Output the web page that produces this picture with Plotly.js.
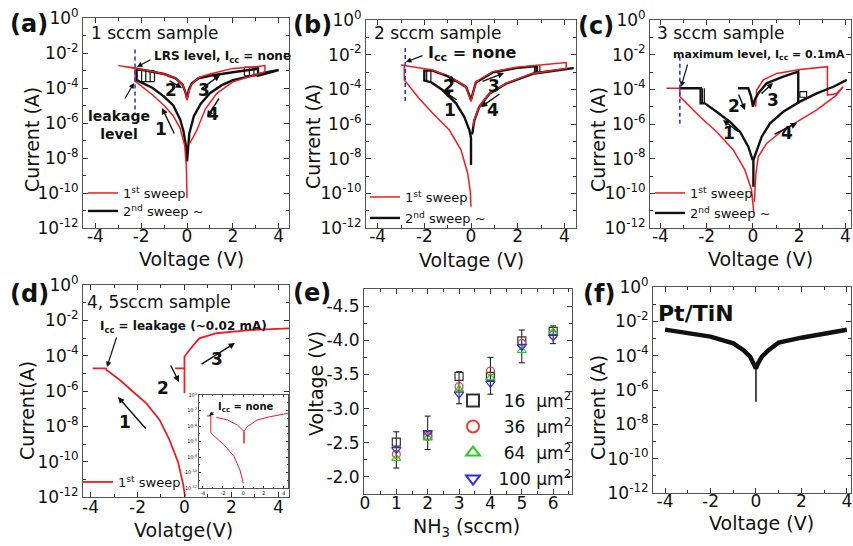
<!DOCTYPE html>
<html><head><meta charset="utf-8">
<script src="https://cdn.plot.ly/plotly-3.0.1.min.js"></script>
<style>html,body{margin:0;padding:0;background:#fff}#c{width:853px;height:546px}</style>
</head><body><div id="c"></div><script>
// ---------- tick labels ----------
const decVals = [1e-12,1e-10,1e-8,1e-6,1e-4,1e-2,1];
const decText = ['10<sup>-12</sup>','10<sup>-10</sup>','10<sup>-8</sup>','10<sup>-6</sup>','10<sup>-4</sup>','10<sup>-2</sup>','10<sup>0</sup>'];
const decMinor = [1e-11,1e-9,1e-7,1e-5,1e-3,1e-1];
const vTicks = [-4,-2,0,2,4];
const vText = ['-4','-2','0','2','4'];
const vMinor = [-3,-1,1,3];
const eXTicks = [0,1,2,3,4,5,6];
const eXText = ['0','1','2','3','4','5','6'];
const eXMinor = [0.5,1.5,2.5,3.5,4.5,5.5,6.5];
const eYTicks = [-2.0,-2.5,-3.0,-3.5,-4.0,-4.5];
const eYText = ['-2.0','-2.5','-3.0','-3.5','-4.0','-4.5'];
const eYMinor = [-1.75,-2.25,-2.75,-3.25,-3.75,-4.25,-4.75];

// ---------- (a) 1 sccm sample ----------
const aRedV = [0,-0.03,-0.1,-0.3,-0.6,-1.0,-1.5,-2.0,-2.27,-2.27,-2.6,-3.0,-2.6,-2.0,-1.5,-1.0,-0.5,-0.2,-0.08,0,0.08,0.2,0.5,1.0,2.0,3.0,3.4,3.4,3.0,2.0,1.3,0.8,0.4,0.1];
const aRedI = [5e-11,3.2e-9,5e-8,5e-7,2.5e-6,1e-5,4e-5,1.26e-4,2.5e-4,1.41e-3,1.66e-3,1.9e-3,1.66e-3,1.12e-3,8.9e-4,6.3e-4,3.55e-4,1.58e-4,6.3e-5,2e-5,6.3e-5,1.58e-4,4e-4,6.3e-4,1.32e-3,1.66e-3,1.9e-3,8.5e-4,5.6e-4,2.24e-4,5e-5,6.3e-6,3.2e-7,6.3e-8];
const aBlkV = [0,-0.05,-0.15,-0.3,-0.6,-1.0,-1.5,-2.0,-2.2,-2.2,-2.0,-1.5,-1.0,-0.5,-0.2,-0.08,0,0.08,0.2,0.5,1.0,2.0,2.5,3.1,3.1,3.5,4.0,3.5,3.0,2.5,2.0,1.5,1.0,0.6,0.3,0.1,0];
const aBlkI = [6.3e-9,5e-8,3.2e-7,1.58e-6,1e-5,3.2e-5,1e-4,2e-4,2.8e-4,1.26e-3,1.12e-3,8.9e-4,6.3e-4,3.55e-4,1.58e-4,6.3e-5,2.5e-5,7.9e-5,1.78e-4,3.55e-4,5e-4,7.9e-4,1e-3,1.26e-3,5e-4,7.1e-4,1.07e-3,7.9e-4,5.6e-4,4e-4,2.8e-4,1.41e-4,5e-5,1.26e-5,2.5e-6,2.5e-7,6.3e-9];
const aStepV = [-1.98,-1.98,null,-1.8,-1.8,null,-1.61,-1.61,null,-1.42,-1.42,null,-2.2,-1.42,null,-1.98,-1.42,null,2.5,2.5,null,2.72,2.72,null,2.92,2.92,null,3.1,3.1,null,2.5,3.1,null,2.5,3.1];
const aStepI = [1.05e-3,2.3e-4,null,1.0e-3,2.3e-4,null,9.5e-4,2.3e-4,null,9e-4,2.3e-4,null,1.0e-3,1.0e-3,null,2.3e-4,2.3e-4,null,1.5e-3,5e-4,null,1.55e-3,5e-4,null,1.6e-3,5e-4,null,1.65e-3,5e-4,null,1.55e-3,1.55e-3,null,5e-4,5e-4];
const aLimV = [-2.27,-2.27];
const aLimI = [1.6e-2,3.5e-6];

// ---------- (b) 2 sccm sample ----------
const bRedV = [0,-0.03,-0.14,-0.43,-0.93,-1.64,-2.22,-2.86,-2.86,-3.0,-2.86,-1.64,-0.93,-0.21,0,0.21,0.93,1.93,2.93,4.08,4.08,2.65,1.5,0.79,0.36,0.14,0.08];
const bRedI = [1.7e-11,1.26e-10,1.4e-9,3.2e-8,4.5e-7,4.2e-6,3e-5,3.5e-4,2.4e-3,2.5e-3,2.4e-3,1.29e-3,5.4e-4,1.41e-4,1.95e-5,2.75e-4,1.05e-3,1.86e-3,2.5e-3,3.5e-3,1.62e-3,8.3e-4,2.24e-4,5.9e-5,1e-5,1.7e-6,7.1e-7];
const bBlkV = [0,0,-0.07,-0.29,-0.64,-1.22,-1.7,-2.0,-2.0,-1.64,-0.93,-0.21,0,0.21,0.93,1.93,2.8,2.8,4.08,4.4,2.65,1.5,0.79,0.36,0.14,0.05];
const bBlkI = [4.3e-9,1.6e-7,4.5e-7,2.6e-6,1.55e-5,9.1e-5,2.5e-4,3.2e-4,1.2e-3,1.2e-3,5.2e-4,1.38e-4,2.5e-5,2.5e-4,9.5e-4,1.66e-3,2.2e-3,8.9e-4,1.5e-3,1.66e-3,7.9e-4,2.1e-4,5.6e-5,1e-5,1.6e-6,2.5e-7];
const bStepV = [-1.9,-1.9,null,-1.72,-1.72,null,2.72,2.72,null,2.85,2.85,null,2.95,2.95];
const bStepI = [1.2e-3,2.7e-4,null,1.1e-3,2.7e-4,null,2.2e-3,8.5e-4,null,2.25e-3,8.5e-4,null,2.3e-3,8.5e-4];
const bLimV = [-2.82,-2.82];
const bLimI = [2.4e-2,1.55e-5];

// ---------- (c) 3 sccm sample ----------
const cRedV = [0.04,-0.06,-0.35,-0.85,-1.57,-2.29,-3.16,-3.16,-3.74,-3.16,null,0.12,0.16,0.45,1.03,2.03,3.22,3.22,3.6,3.9,3.6,2.76,2.03,1.31,0.59,0.23,0.13,0.06];
const cRedI = [7.1e-12,1.55e-10,2.24e-9,3.2e-8,3.6e-7,2.6e-6,3.8e-5,1.15e-4,1.15e-4,1.15e-4,null,1e-5,9.1e-5,3.5e-4,8.3e-4,1.41e-3,2.04e-3,4.7e-5,5.6e-5,1.41e-4,4.5e-5,6.5e-6,1.7e-6,4.5e-7,7.6e-8,1.29e-8,1.41e-9,3.2e-11];
const cBlkV = [-3.16,-2.26,-2.26,-2.08,-1.57,-1.0,-0.56,-0.2,-0.01,null,-0.64,-0.2,-0.08,0,0.08,0.23,0.59,1.31,1.96,1.96,null,4.06,3.48,2.76,2.03,1.31,0.74,0.38,0.13,0.02,0.02];
const cBlkI = [1.15e-4,1.15e-4,1.55e-5,1.55e-5,5.1e-6,1.35e-6,3.6e-7,4.9e-8,8.3e-9,null,1.15e-4,1.15e-4,4e-5,1e-5,2.5e-5,5.9e-5,2.24e-4,5.4e-4,1.05e-3,1.55e-5,null,3.5e-4,1.41e-4,5.9e-5,1.95e-5,5.1e-6,1.1e-6,1.86e-7,2.04e-8,8.3e-9,2.4e-10];
const cStepV = [-2.18,-2.18,null,-2.1,-2.1,null,2.03,2.32,2.32,2.03,2.03];
const cStepI = [1.15e-4,1.6e-5,null,1.15e-4,1.7e-5,null,7.4e-5,7.4e-5,3.5e-5,3.5e-5,7.4e-5];
const cLimV = [-3.16,-3.16];
const cLimI = [7.6e-3,8.7e-7];

// ---------- (d) 4, 5 sccm sample + inset ----------
const dRedV = [-3.91,-3.35,-3.32,-2.75,-2.19,-1.62,-1.06,-0.64,-0.28,-0.07,0.03,null,-0.4,0,0,0,0.21,0.63,1.36,2.78,4.45];
const dRedI = [1.9e-5,1.9e-5,1.55e-5,4.2e-6,9.1e-7,2e-7,2.3e-8,1.7e-9,1e-10,6.3e-12,1.05e-12,null,1.9e-5,1.9e-5,7.4e-7,8.7e-5,2.1e-4,9.5e-4,1.86e-3,2.8e-3,3.5e-3];
const iRedV = [-3.6,-3.2,-3.2,-2.98,-1.87,-0.9,-0.33,0,null,-2.66,-1.54,-0.58,-0.1,0.07,0.07,0.07,0.38,1.35,2.63,4.39];
const iRedI = [2e-3,2e-3,1.38e-5,6.9e-6,3.5e-7,1.1e-8,2.1e-10,4e-12,null,1.32e-3,5.9e-4,1.35e-4,3.7e-5,2e-5,5.8e-7,2e-5,8.1e-5,5.9e-4,1.58e-3,4.3e-3];

// ---------- (e) set voltage vs NH3 flow ----------
const eNH3 = [1,2,3,4,5,6];
const e16 = [-2.51,-2.61,-3.47,-3.47,-3.99,-4.13];
const e36 = [-2.33,-2.59,-3.32,-3.55,-3.95,-4.08];
const e64 = [-2.27,-2.57,-3.28,-3.45,-3.85,-4.12];
const e100 = [-2.40,-2.65,-3.21,-3.37,-3.91,-4.05];
const e16ErrPlus = [0.38,0.21,0.40,0.26,0.32,0.18];
const e16ErrMinus = [0.15,0.28,0.07,0.28,0.16,0.08];

// ---------- (f) Pt/TiN ----------
const fV = [-4,-3,-2,-1,-0.55,-0.26,-0.09,0,0.09,0.26,0.55,1,2,3,4];
const fI = [3.3e-3,2.2e-3,1.29e-3,5.2e-4,2.1e-4,8.7e-5,3.5e-5,1.8e-5,3.5e-5,8.7e-5,2.1e-4,5.8e-4,1.12e-3,2e-3,3.2e-3];
const fTailV = [0,0];
const fTailI = [1.8e-5,2.1e-7];

// ================= layout helpers =================
const W = 853, H = 546;
const FONT = 'DejaVu Sans, Verdana, sans-serif';
const INK = '#111';
const RED = '#ee1d23';
const BLUE = '#2a3ae8';
const TICK = 17, TITLE = 19;
function xd(a,b){return [a/W,b/W];}
function yd(t,b){return [1-b/H,1-t/H];}
function xAx(dom, anchor, range, o){
  return Object.assign({domain:xd(dom[0],dom[1]), anchor, range, tickmode:'array', tickvals:vTicks, ticktext:vText,
    ticks:'inside', ticklen:5, tickwidth:1, tickcolor:'#333', showline:true, linecolor:'#555', linewidth:1, mirror:'ticks',
    showgrid:false, zeroline:false, tickfont:{size:TICK,color:INK}, fixedrange:true, ticklabelstandoff:-7,
    minor:{tickvals:vMinor, ticks:'inside', ticklen:3, tickcolor:'#333'}}, o||{});
}
function yAx(dom, anchor, o){
  return Object.assign({domain:yd(dom[0],dom[1]), anchor, type:'log', range:[-12,0], tickmode:'array', tickvals:decVals, ticktext:decText,
    ticks:'inside', ticklen:5, tickwidth:1, tickcolor:'#333', showline:true, linecolor:'#555', linewidth:1, mirror:'ticks',
    showgrid:false, zeroline:false, tickfont:{size:TICK,color:INK}, fixedrange:true,
    minor:{tickvals:decMinor, ticks:'inside', ticklen:3, tickcolor:'#333'}}, o||{});
}
function ln(x,y,xa,ya,color,width,o){
  return Object.assign({type:'scatter', mode:'lines', x, y, xaxis:xa, yaxis:ya, line:{color, width}, showlegend:false, hoverinfo:'skip'}, o||{});
}
function T(x,y,text,o){
  return Object.assign({xref:'paper', yref:'paper', x:x/W, y:1-y/H, text, showarrow:false, xanchor:'left', yanchor:'middle', font:{size:17,color:INK}}, o||{});
}
function B(x,y,text,size){ return T(x,y,'<b>'+text+'</b>',{xanchor:'center', font:{size:size||17,color:INK}}); }
function XT(x,y,text){ return T(x,y,text,{xanchor:'center', font:{size:TITLE,color:INK}}); }
function YT(x,y,text){ return T(x,y,text,{xanchor:'center', textangle:-90, font:{size:TITLE,color:INK}}); }
function ARW(hx,hy,tx,ty,w){
  return {xref:'paper', yref:'paper', x:hx/W, y:1-hy/H, ax:tx-hx, ay:ty-hy, text:'', showarrow:true, arrowhead:2, arrowsize:0.9, arrowwidth:w||1.4, arrowcolor:INK};
}
function LG(x,y,size){
  return {x:x/W, y:1-y/H, xanchor:'left', yanchor:'middle', bgcolor:'rgba(0,0,0,0)', borderwidth:0, font:{size:size||13,color:INK}, itemclick:false, itemdoubleclick:false};
}

// ================= traces =================
const traces = [
  // (a)
  ln(aBlkV,aBlkI,'x','y',INK,2.4,{showlegend:true, name:'2<sup>nd</sup> sweep ~', legend:'legend2'}),
  ln(aStepV,aStepI,'x','y',INK,1.2),
  ln(aRedV,aRedI,'x','y',RED,1.5,{showlegend:true, name:'1<sup>st</sup> sweep', legend:'legend'}),
  ln(aLimV,aLimI,'x','y',BLUE,1.6,{line:{color:BLUE,width:1.6,dash:'4px,3px'}}),
  // (b)
  ln(bBlkV,bBlkI,'x2','y2',INK,2.4,{showlegend:true, name:'2<sup>nd</sup> sweep ~', legend:'legend4'}),
  ln(bStepV,bStepI,'x2','y2',INK,1.2),
  ln(bRedV,bRedI,'x2','y2',RED,1.5,{showlegend:true, name:'1<sup>st</sup> sweep', legend:'legend3'}),
  ln(bLimV,bLimI,'x2','y2',BLUE,1.6,{line:{color:BLUE,width:1.6,dash:'4px,3px'}}),
  // (c)
  ln(cRedV,cRedI,'x3','y3',RED,1.5,{showlegend:true, name:'1<sup>st</sup> sweep', legend:'legend5'}),
  ln(cBlkV,cBlkI,'x3','y3',INK,2.4,{showlegend:true, name:'2<sup>nd</sup> sweep ~', legend:'legend6'}),
  ln(cStepV,cStepI,'x3','y3',INK,1.2),
  ln(cLimV,cLimI,'x3','y3',BLUE,1.6,{line:{color:BLUE,width:1.6,dash:'4px,3px'}}),
  // (d)
  ln(dRedV,dRedI,'x4','y4',RED,1.8,{showlegend:true, name:'1<sup>st</sup> sweep', legend:'legend7'}),
  ln(iRedV,iRedI,'x7','y7',RED,1),
  // (f)
  ln(fV,fI,'x6','y6',INK,4.5),
  ln(fTailV,fTailI,'x6','y6',INK,1.5),
];
// (e)
const eSeries = [
  {y:e16, name:'\u00a0\u00a016\u00a0\u00a0µm<sup>2</sup>', symbol:'square-open', color:'#333', lg:'legend8'},
  {y:e36, name:'\u00a0\u00a036\u00a0\u00a0µm<sup>2</sup>', symbol:'circle-open', color:'#f03a3a', lg:'legend9'},
  {y:e64, name:'\u00a0\u00a064\u00a0\u00a0µm<sup>2</sup>', symbol:'triangle-up-open', color:'#1fd21f', lg:'legend10'},
  {y:e100, name:'\u00a0100\u00a0µm<sup>2</sup>', symbol:'triangle-down-open', color:'#2a2af0', lg:'legend11'},
];
eSeries.forEach((s,i)=>{
  const t = {type:'scatter', mode:'markers', x:eNH3, y:s.y, xaxis:'x5', yaxis:'y5', name:s.name, legend:s.lg,
    marker:{symbol:s.symbol, size:8, color:s.color, line:{width:1.2,color:s.color}}, hoverinfo:'skip'};
  if(i===0){ t.error_y = {type:'data', symmetric:false, array:e16ErrPlus, arrayminus:e16ErrMinus, color:INK, thickness:1, width:3}; }
  traces.push(t);
});

// ================= layout =================
const layout = {
  width:W, height:H, margin:{l:0,r:0,t:0,b:0}, paper_bgcolor:'#fff', plot_bgcolor:'#fff',
  font:{family:FONT, color:INK}, hovermode:false, dragmode:false,
  xaxis: xAx([83,289],'y',[-4.54,4.45]),
  yaxis: yAx([18,228],'x'),
  xaxis2: xAx([366,576],'y2',[-4.5,4.5]),
  yaxis2: yAx([20,228],'x2'),
  xaxis3: xAx([650,851],'y3',[-4.45,4.24]),
  yaxis3: yAx([20,228],'x3'),
  xaxis4: xAx([83,289],'y4',[-4.32,4.45],{ticklabelstandoff:-5}),
  yaxis4: yAx([285,497],'x4'),
  xaxis5: xAx([364,572],'y5',[-0.03,6.6],{tickvals:eXTicks, ticktext:eXText, ticklabelstandoff:-6, minor:{tickvals:eXMinor, ticks:'inside', ticklen:3, tickcolor:'#333'}}),
  yaxis5: {domain:yd(289,494), anchor:'x5', range:[-1.75,-4.75], tickmode:'array', tickvals:eYTicks, ticktext:eYText,
    ticks:'inside', ticklen:5, tickcolor:'#333', showline:true, linecolor:'#555', linewidth:1, mirror:'ticks', showgrid:false, zeroline:false,
    tickfont:{size:TICK,color:INK}, fixedrange:true, minor:{tickvals:eYMinor, ticks:'inside', ticklen:3, tickcolor:'#333'}},
  xaxis6: xAx([653,851],'y6',[-4.53,4.18]),
  yaxis6: yAx([287,493],'x6'),
  xaxis7: xAx([199,288],'y7',[-4.36,4.4],{tickfont:{size:5,color:INK}, ticklen:2, ticklabelstandoff:0, minor:{tickvals:vMinor, ticks:'inside', ticklen:1}}),
  yaxis7: yAx([395,488],'x7',{tickfont:{size:5,color:INK}, ticklen:2, minor:{tickvals:decMinor, ticks:'inside', ticklen:1}}),
  legend: LG(83,193), legend2: LG(83,211),
  legend3: LG(365,197), legend4: LG(365,218),
  legend5: LG(650,193), legend6: LG(650,213),
  legend7: LG(78,482),
  legend8: Object.assign(LG(453,401,17),{itemsizing:'constant'}),
  legend9: Object.assign(LG(453,427,17),{itemsizing:'constant'}),
  legend10: Object.assign(LG(453,453,17),{itemsizing:'constant'}),
  legend11: Object.assign(LG(453,479,17),{itemsizing:'constant'}),
  annotations: [
    // axis titles
    XT(191,259,'Voltage (V)'), YT(32,139,'Current (A)'),
    XT(471,260,'Voltage (V)'), YT(313,137,'Current (A)'),
    XT(760,259,'Voltage (V)'), YT(598,140,'Current (A)'),
    XT(183,530,'Volatge(V)'), YT(27,410,'Current(A)'),
    XT(467,527,'NH<sub>3</sub> (sccm)'), YT(316,384,'Voltage (V)'),
    XT(761,523,'Voltage (V)'), YT(598,408,'Current (A)'),
    // panel letters
    T(29,24,'<b>(a)</b>',{xanchor:'center',font:{size:24,color:INK}}),
    T(312,25,'<b>(b)</b>',{xanchor:'center',font:{size:24,color:INK}}),
    T(596,26,'<b>(c)</b>',{xanchor:'center',font:{size:24,color:INK}}),
    T(29,294,'<b>(d)</b>',{xanchor:'center',font:{size:24,color:INK}}),
    T(312,293,'<b>(e)</b>',{xanchor:'center',font:{size:24,color:INK}}),
    T(599,294,'<b>(f)</b>',{xanchor:'center',font:{size:24,color:INK}}),
    // (a)
    T(89,33,'1 sccm sample'),
    T(152,57,'<b>LRS level, I<sub>cc</sub> = none</b>',{font:{size:12,color:INK}}),
    ARW(137,67,152,59,1.2),
    T(119,125,'<b>leakage<br>level</b>',{xanchor:'center',align:'center',font:{size:14,color:INK}}),
    ARW(134,83,124,100,1.2),
    B(161,129,'1'), B(171,90,'2'), B(204,90,'3'), B(213,114,'4'),
    ARW(162,108,175,135), ARW(182,88,168,80), ARW(220,75,200,90), ARW(207,117,220,97),
    // (b)
    T(372,33,'2 sccm sample'),
    T(426,54,'<b>I<sub>cc</sub> = none</b>',{font:{size:16,color:INK}}),
    ARW(406,62,424,55,1.2),
    B(450,110,'1'), B(449,86,'2'), B(494,86,'3'), B(493,110,'4'),
    ARW(444,91,458,101), ARW(455,82,443,73), ARW(504,73,481,82), ARW(481,107,501,93),
    // (c)
    T(671,55,'<b>maximum level, I<sub>cc</sub> = 0.1mA</b>',{font:{size:11,color:INK}}),
    T(655,33,'3 sccm sample'),
    ARW(681,87,688,63,1.2),
    B(729,133,'1'), B(734,106,'2'), B(773,100,'3'), B(787,133,'4'),
    ARW(723,120,740,133), ARW(745,110,738,93), ARW(773,83,760,95), ARW(797,123,773,135),
    // (d)
    T(85,302,'4, 5sccm sample'),
    T(98,327,'<b>I<sub>cc</sub> = leakage (~0.02 mA)</b>',{font:{size:12,color:INK}}),
    ARW(107,367,117,336,1.2),
    B(125,422,'1'), B(163,388,'2'), B(217,359,'3'),
    ARW(118,397,147,430), ARW(179,382,170,364), ARW(235,343,200,365),
    T(216,407,'<b>I<sub>cc</sub> = none</b>',{font:{size:10,color:INK}}),
    ARW(209,416,215,411,1),
    // (f)
    T(656,313,'<b>Pt/TiN</b>',{font:{size:22,color:INK}}),
  ],
};

Plotly.newPlot('c', traces, layout, {displayModeBar:false, staticPlot:true});
</script></body></html>
